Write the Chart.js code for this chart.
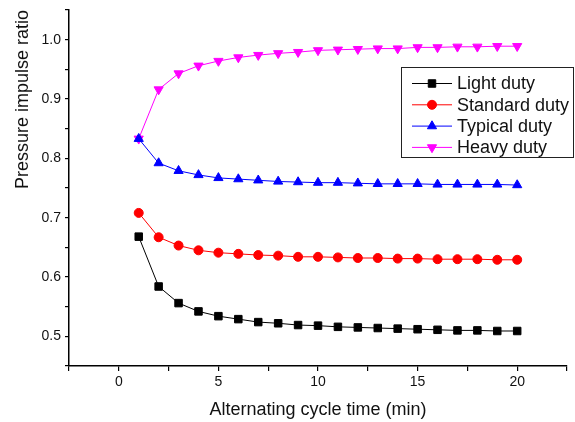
<!DOCTYPE html>
<html>
<head>
<meta charset="utf-8">
<script src="https://cdn.jsdelivr.net/npm/chart.js@4/dist/chart.umd.min.js"></script>
<style>
  html, body { margin: 0; padding: 0; background: #fff; }
  #wrap { width: 575px; height: 422px; }
</style>
</head>
<body>
<div id="wrap"><canvas id="pressureChart" width="575" height="422"></canvas></div>
<script>
// Alternating cycle time (min)
const cycleTimes = [1, 2, 3, 4, 5, 6, 7, 8, 9, 10, 11, 12, 13, 14, 15, 16, 17, 18, 19, 20];

// Pressure impulse ratio per duty type
const lightDuty = [0.668, 0.584, 0.556, 0.542, 0.534, 0.529, 0.524, 0.522, 0.519, 0.518,
                   0.516, 0.515, 0.514, 0.513, 0.512, 0.511, 0.510, 0.510, 0.509, 0.509];
const standardDuty = [0.708, 0.667, 0.653, 0.645, 0.641, 0.639, 0.637, 0.636, 0.634, 0.634,
                      0.633, 0.632, 0.632, 0.631, 0.631, 0.630, 0.630, 0.630, 0.629, 0.629];
const typicalDuty = [0.833, 0.792, 0.779, 0.772, 0.767, 0.765, 0.763, 0.761, 0.760, 0.759,
                     0.759, 0.758, 0.757, 0.757, 0.757, 0.756, 0.756, 0.756, 0.756, 0.755];
const heavyDuty = [0.833, 0.916, 0.943, 0.956, 0.964, 0.970, 0.974, 0.977, 0.979, 0.982,
                   0.983, 0.984, 0.985, 0.985, 0.987, 0.987, 0.988, 0.988, 0.989, 0.989];

const seriesNames = ['Light duty', 'Standard duty', 'Typical duty', 'Heavy duty'];

// Axis ranges / ticks
const xMin = -2.5, xMax = 22.5, xStep = 2.5;
const yMin = 0.45, yMax = 1.05, yStep = 0.05;

const FONT = 'Arial, "Liberation Sans", sans-serif';

function toPoints(values) {
    return values.map((v, i) => ({ x: cycleTimes[i], y: v }));
}

function makeDataset(label, values, color, style, radius, rotation) {
    return {
        label: label,
        data: toPoints(values),
        borderColor: color,
        backgroundColor: color,
        borderWidth: 1,
        pointStyle: style,
        pointRadius: radius,
        pointRotation: rotation || 0,
        pointBorderWidth: 1,
        pointBackgroundColor: color,
        pointBorderColor: color,
        tension: 0
    };
}

const datasets = [
    makeDataset(seriesNames[0], lightDuty, '#000000', 'rect', 5.3),
    makeDataset(seriesNames[1], standardDuty, '#ff0000', 'circle', 4.5),
    makeDataset(seriesNames[2], typicalDuty, '#0000ff', 'triangle', 5.3),
    makeDataset(seriesNames[3], heavyDuty, '#ff00ff', 'triangle', 5.3, 180)
];

// same shapes Chart.js uses, for the legend
function drawMarker(ctx, style, x, y, r, rotation) {
    ctx.beginPath();
    if (style === 'rect') {
        const s = Math.SQRT1_2 * r;
        ctx.rect(x - s, y - s, 2 * s, 2 * s);
    } else if (style === 'circle') {
        ctx.arc(x, y, r, 0, Math.PI * 2);
    } else {
        let rad = (rotation || 0) * Math.PI / 180;
        ctx.moveTo(x + Math.sin(rad) * r, y - Math.cos(rad) * r);
        rad += 2 * Math.PI / 3;
        ctx.lineTo(x + Math.sin(rad) * r, y - Math.cos(rad) * r);
        rad += 2 * Math.PI / 3;
        ctx.lineTo(x + Math.sin(rad) * r, y - Math.cos(rad) * r);
        ctx.closePath();
    }
    ctx.fill();
    ctx.stroke();
}

const boxLegend = {
    id: 'boxLegend',
    afterDraw(chart) {
        const ctx = chart.ctx;
        const left = 401.5, top = 67.5, w = 172, h = 90;
        ctx.save();
        ctx.strokeStyle = '#222';
        ctx.lineWidth = 1;
        ctx.strokeRect(left, top, w, h);
        ctx.font = '18px ' + FONT;
        ctx.textBaseline = 'middle';
        ctx.textAlign = 'left';
        chart.data.datasets.forEach((ds, i) => {
            const y = 83.5 + i * 21.3;
            ctx.strokeStyle = ds.borderColor;
            ctx.fillStyle = ds.borderColor;
            ctx.lineWidth = 1;
            ctx.beginPath();
            ctx.moveTo(412, y);
            ctx.lineTo(452, y);
            ctx.stroke();
            drawMarker(ctx, ds.pointStyle, 432, y, ds.pointRadius, ds.pointRotation);
            ctx.fillStyle = '#111';
            ctx.fillText(ds.label, 457, y + 1);
        });
        ctx.restore();
    }
};

function isMultiple(v, step) {
    const q = v / step;
    return Math.abs(q - Math.round(q)) < 1e-6;
}

const ctx = document.getElementById('pressureChart').getContext('2d');

new Chart(ctx, {
    type: 'line',
    data: { datasets: datasets },
    options: {
        responsive: false,
        animation: false,
        devicePixelRatio: 1,
        layout: { padding: { top: 10, right: 8, left: 0, bottom: 0 } },
        plugins: {
            legend: { display: false },
            tooltip: { enabled: false }
        },
        scales: {
            x: {
                type: 'linear',
                min: xMin,
                max: xMax,
                afterFit: scale => {
                    scale.height = 56;
                    scale.paddingLeft = 0;
                    scale.paddingRight = 0;
                },
                border: { display: true, color: '#000', width: 1.5 },
                grid: {
                    drawOnChartArea: false,
                    drawTicks: true,
                    tickLength: 5,
                    color: '#000',
                    lineWidth: 1.2
                },
                ticks: {
                    stepSize: xStep,
                    autoSkip: false,
                    maxRotation: 0,
                    padding: 3,
                    color: '#111',
                    font: { family: FONT, size: 14 },
                    callback: v => isMultiple(v, 5) ? String(Math.round(v)) : ''
                },
                title: {
                    display: true,
                    text: 'Alternating cycle time (min)',
                    color: '#111',
                    font: { family: FONT, size: 18, lineHeight: 1.2 },
                    padding: { top: 0, bottom: 1 }
                }
            },
            y: {
                type: 'linear',
                min: yMin,
                max: yMax,
                afterFit: scale => {
                    scale.width = 69;
                    scale.paddingTop = 0;
                    scale.paddingBottom = 0;
                },
                border: { display: true, color: '#000', width: 1.5 },
                grid: {
                    drawOnChartArea: false,
                    drawTicks: true,
                    tickLength: 4,
                    color: '#000',
                    lineWidth: 1.2
                },
                ticks: {
                    stepSize: yStep,
                    autoSkip: false,
                    padding: 4,
                    color: '#111',
                    font: { family: FONT, size: 14 },
                    callback: v => isMultiple(v, 0.1) ? v.toFixed(1) : ''
                },
                title: {
                    display: true,
                    text: 'Pressure impulse ratio',
                    align: 'end',
                    color: '#111',
                    font: { family: FONT, size: 18, lineHeight: 1.2 },
                    padding: { top: 12, bottom: 0 }
                }
            }
        }
    },
    plugins: [boxLegend]
});
</script>
</body>
</html>
